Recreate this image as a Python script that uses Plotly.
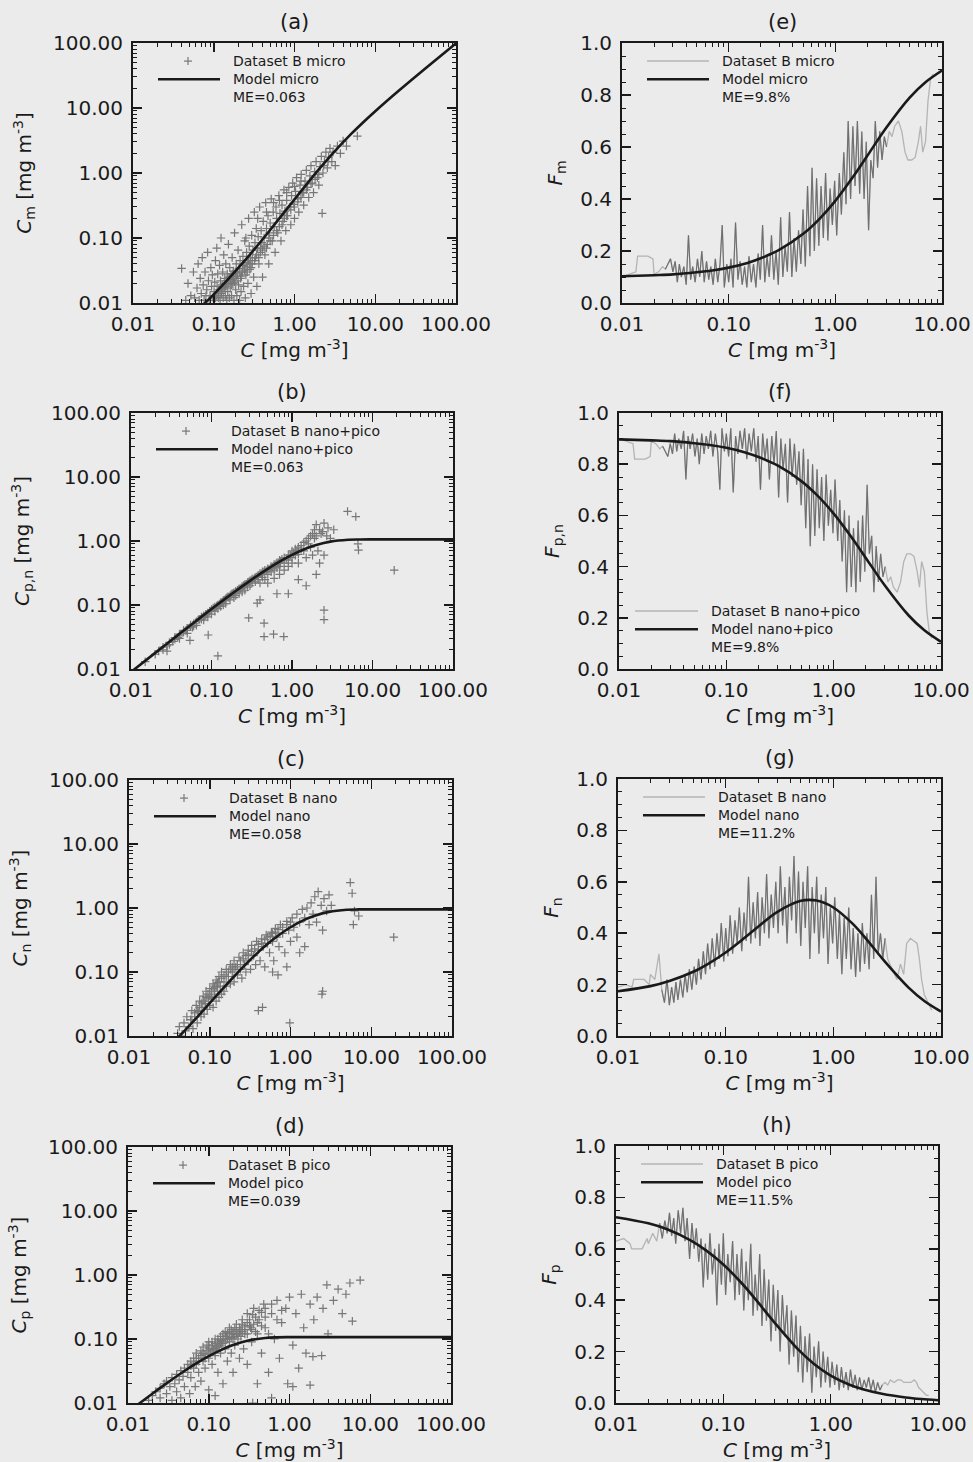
import plotly.graph_objects as go

# ---------------- data ----------------
MODEL_C = [0.01, 0.02, 0.03, 0.05, 0.07, 0.1, 0.15, 0.2, 0.3, 0.5, 0.7, 1, 1.5, 2, 3, 5, 7, 10, 20, 50, 100]
MODEL_CM = [0.00103, 0.00213, 0.00331, 0.00589, 0.00877, 0.0136, 0.0231, 0.0343, 0.0614, 0.133, 0.225, 0.393,
            0.736, 1.134, 2.023, 3.955, 5.943, 8.94, 18.94, 48.94, 98.94]
MODEL_CPN = [0.00897, 0.01787, 0.02669, 0.04411, 0.06123, 0.08638, 0.1269, 0.1657, 0.2386, 0.3670, 0.4754, 0.6070,
             0.7638, 0.8663, 0.9772, 1.0449, 1.0572, 1.0598, 1.06, 1.06, 1.06]
MODEL_CN = [0.00174, 0.00389, 0.00642, 0.01251, 0.01978, 0.03252, 0.05734, 0.08509, 0.1447, 0.2632, 0.3692, 0.5001,
            0.6568, 0.7593, 0.8702, 0.9379, 0.9502, 0.9528, 0.953, 0.953, 0.953]
MODEL_CP = [0.00723, 0.01398, 0.02027, 0.0316, 0.04145, 0.05386, 0.06956, 0.08061, 0.09389, 0.10377, 0.1062, 0.1069,
            0.107, 0.107, 0.107, 0.107, 0.107, 0.107, 0.107, 0.107, 0.107]

MODEL_FC = [0.01, 0.02, 0.03, 0.05, 0.07, 0.1, 0.15, 0.2, 0.3, 0.5, 0.7, 1, 1.5, 2, 3, 5, 7, 10]
MODEL_FM = [0.103, 0.107, 0.110, 0.118, 0.125, 0.136, 0.154, 0.172, 0.205, 0.266, 0.321, 0.393, 0.491, 0.567,
            0.674, 0.791, 0.849, 0.894]
MODEL_FPN = [0.897, 0.893, 0.890, 0.882, 0.875, 0.864, 0.846, 0.828, 0.795, 0.734, 0.679, 0.607, 0.509, 0.433,
             0.326, 0.209, 0.151, 0.106]
MODEL_FN = [0.174, 0.194, 0.214, 0.250, 0.283, 0.325, 0.382, 0.425, 0.482, 0.526, 0.527, 0.500, 0.438, 0.380,
            0.290, 0.188, 0.136, 0.095]
MODEL_FP = [0.723, 0.699, 0.676, 0.632, 0.592, 0.539, 0.464, 0.403, 0.313, 0.2075, 0.1517, 0.1069, 0.0713, 0.0535,
            0.0357, 0.0214, 0.0153, 0.0107]

LINE_C = [0.0100, 0.0118, 0.0135, 0.0140, 0.0175, 0.0195, 0.0200, 0.0220, 0.0240, 0.0255,
          0.0270, 0.0285, 0.0300, 0.0315, 0.0330, 0.0345, 0.0360, 0.0380, 0.0400, 0.0420,
          0.0440, 0.0460, 0.0485, 0.0510, 0.0535, 0.0560, 0.0590, 0.0620, 0.0650, 0.0680,
          0.0715, 0.0750, 0.0790, 0.0830, 0.0870, 0.0910, 0.0960, 0.1000, 0.1050, 0.1100,
          0.1160, 0.1220, 0.1280, 0.1340, 0.1410, 0.1480, 0.1550, 0.1630, 0.1710, 0.1800,
          0.1890, 0.1980, 0.2080, 0.2180, 0.2290, 0.2400, 0.2520, 0.2650, 0.2780, 0.2920,
          0.3070, 0.3220, 0.3380, 0.3550, 0.3720, 0.3910, 0.4100, 0.4310, 0.4520, 0.4750,
          0.4980, 0.5230, 0.5490, 0.5770, 0.6050, 0.6360, 0.6670, 0.7000, 0.7350, 0.7720,
          0.8100, 0.8510, 0.8930, 0.9380, 0.9850, 1.0300, 1.0900, 1.1400, 1.2000, 1.2600,
          1.3200, 1.3900, 1.4600, 1.5300, 1.6100, 1.6900, 1.7700, 1.8600, 1.9500, 2.0500,
          2.1500, 2.2600, 2.3700, 2.4900, 2.6100, 2.7400, 2.8800, 3.0200, 3.2000, 3.4000,
          3.6000, 3.9000, 4.2000, 4.5000, 4.8000, 5.2000, 5.6000, 6.0000, 6.3000, 6.6000,
          7.0000, 7.4000, 7.8000, 8.2000]

FM_DATA = [0.10, 0.11, 0.12, 0.18, 0.18, 0.17, 0.11, 0.12, 0.14, 0.13,
           0.15, 0.17, 0.12, 0.16, 0.08, 0.15, 0.10, 0.14, 0.07, 0.26,
           0.09, 0.14, 0.08, 0.17, 0.10, 0.20, 0.08, 0.16, 0.09, 0.14,
           0.07, 0.17, 0.08, 0.15, 0.30, 0.06, 0.15, 0.08, 0.17, 0.06,
           0.31, 0.09, 0.16, 0.07, 0.14, 0.06, 0.18, 0.08, 0.15, 0.06,
           0.19, 0.09, 0.30, 0.08, 0.18, 0.10, 0.26, 0.09, 0.20, 0.07,
           0.33, 0.10, 0.22, 0.12, 0.35, 0.10, 0.25, 0.12, 0.28, 0.15,
           0.36, 0.14, 0.45, 0.18, 0.52, 0.20, 0.48, 0.22, 0.45, 0.25,
           0.50, 0.24, 0.44, 0.30, 0.47, 0.26, 0.50, 0.34, 0.58, 0.38,
           0.70, 0.40, 0.68, 0.45, 0.70, 0.42, 0.66, 0.40, 0.62, 0.28,
           0.55, 0.48, 0.70, 0.52, 0.66, 0.55, 0.64, 0.60, 0.66, 0.64,
           0.68, 0.70, 0.66, 0.58, 0.55, 0.55, 0.56, 0.62, 0.68, 0.58,
           0.62, 0.78, 0.86, 0.88]

FPN_DATA = [0.90, 0.89, 0.88, 0.82, 0.82, 0.83, 0.89, 0.88, 0.86, 0.87,
            0.85, 0.83, 0.88, 0.84, 0.92, 0.85, 0.90, 0.86, 0.93, 0.74,
            0.91, 0.86, 0.92, 0.83, 0.90, 0.80, 0.92, 0.84, 0.91, 0.86,
            0.93, 0.83, 0.92, 0.85, 0.70, 0.94, 0.85, 0.92, 0.83, 0.94,
            0.69, 0.91, 0.84, 0.93, 0.86, 0.94, 0.82, 0.92, 0.85, 0.94,
            0.81, 0.91, 0.70, 0.92, 0.82, 0.90, 0.74, 0.91, 0.80, 0.93,
            0.67, 0.90, 0.78, 0.88, 0.65, 0.90, 0.75, 0.88, 0.72, 0.85,
            0.64, 0.86, 0.55, 0.82, 0.48, 0.80, 0.52, 0.78, 0.55, 0.75,
            0.50, 0.76, 0.56, 0.70, 0.53, 0.74, 0.50, 0.66, 0.42, 0.62,
            0.30, 0.60, 0.32, 0.55, 0.30, 0.58, 0.34, 0.60, 0.38, 0.72,
            0.45, 0.52, 0.30, 0.48, 0.34, 0.45, 0.36, 0.40, 0.34, 0.36,
            0.32, 0.30, 0.34, 0.42, 0.45, 0.45, 0.44, 0.38, 0.32, 0.42,
            0.38, 0.22, 0.14, 0.12]

FN_DATA = [0.19, 0.20, 0.19, 0.22, 0.22, 0.20, 0.24, 0.22, 0.32, 0.18,
           0.13, 0.22, 0.12, 0.19, 0.13, 0.21, 0.14, 0.22, 0.15, 0.24,
           0.17, 0.26, 0.18, 0.27, 0.20, 0.30, 0.22, 0.33, 0.24, 0.36,
           0.26, 0.38, 0.27, 0.40, 0.30, 0.44, 0.29, 0.42, 0.31, 0.47,
           0.32, 0.45, 0.36, 0.50, 0.33, 0.48, 0.37, 0.62, 0.36, 0.52,
           0.38, 0.56, 0.35, 0.54, 0.40, 0.63, 0.38, 0.55, 0.42, 0.60,
           0.40, 0.66, 0.43, 0.58, 0.36, 0.62, 0.45, 0.70, 0.40, 0.64,
           0.35, 0.60, 0.42, 0.66, 0.30, 0.58, 0.40, 0.62, 0.32, 0.55,
           0.38, 0.58, 0.28, 0.50, 0.36, 0.54, 0.30, 0.48, 0.24, 0.46,
           0.30, 0.50, 0.26, 0.42, 0.23, 0.40, 0.25, 0.44, 0.28, 0.40,
           0.26, 0.55, 0.30, 0.62, 0.32, 0.40, 0.30, 0.38, 0.30, 0.27,
           0.25, 0.22, 0.28, 0.24, 0.36, 0.38, 0.37, 0.36, 0.30, 0.22,
           0.16, 0.14, 0.12, 0.10]

FP_DATA = [0.63, 0.64, 0.62, 0.60, 0.60, 0.64, 0.62, 0.66, 0.63, 0.70,
           0.64, 0.71, 0.66, 0.74, 0.65, 0.72, 0.62, 0.75, 0.66, 0.76,
           0.63, 0.72, 0.56, 0.70, 0.60, 0.68, 0.55, 0.64, 0.45, 0.62,
           0.48, 0.66, 0.50, 0.60, 0.38, 0.62, 0.46, 0.66, 0.42, 0.58,
           0.47, 0.63, 0.40, 0.58, 0.42, 0.60, 0.36, 0.55, 0.40, 0.62,
           0.34, 0.50, 0.36, 0.58, 0.30, 0.52, 0.32, 0.48, 0.24, 0.46,
           0.28, 0.44, 0.20, 0.42, 0.26, 0.38, 0.15, 0.36, 0.18, 0.34,
           0.12, 0.30, 0.08, 0.26, 0.12, 0.27, 0.04, 0.22, 0.10, 0.24,
           0.06, 0.20, 0.08, 0.18, 0.06, 0.16, 0.07, 0.15, 0.05, 0.14,
           0.06, 0.12, 0.05, 0.13, 0.06, 0.11, 0.05, 0.10, 0.05, 0.09,
           0.06, 0.10, 0.05, 0.09, 0.04, 0.08, 0.05, 0.07, 0.08, 0.07,
           0.09, 0.08, 0.09, 0.09, 0.08, 0.08, 0.08, 0.09, 0.08, 0.06,
           0.05, 0.04, 0.03, 0.03]

A_PTS = [(0.040, 0.034), (0.045, 0.011), (0.048, 0.020), (0.052, 0.013), (0.056, 0.030), (0.058, 0.012),
         (0.062, 0.017), (0.064, 0.040), (0.066, 0.011), (0.068, 0.024), (0.070, 0.014), (0.072, 0.050),
         (0.074, 0.019), (0.076, 0.011), (0.078, 0.030), (0.080, 0.013), (0.082, 0.016), (0.084, 0.060),
         (0.086, 0.022), (0.088, 0.011), (0.090, 0.013), (0.092, 0.035), (0.094, 0.018), (0.096, 0.027),
         (0.098, 0.012), (0.100, 0.011), (0.101, 0.015), (0.103, 0.021), (0.105, 0.045), (0.107, 0.013),
         (0.109, 0.070), (0.110, 0.018), (0.112, 0.028), (0.114, 0.012), (0.116, 0.016), (0.118, 0.038),
         (0.120, 0.011), (0.121, 0.022), (0.123, 0.100), (0.125, 0.014), (0.127, 0.019), (0.129, 0.030),
         (0.131, 0.012), (0.133, 0.055), (0.135, 0.017), (0.137, 0.024), (0.139, 0.013), (0.141, 0.040),
         (0.143, 0.020), (0.145, 0.011), (0.147, 0.028), (0.149, 0.015), (0.152, 0.080), (0.154, 0.022),
         (0.156, 0.012), (0.158, 0.035), (0.160, 0.017), (0.163, 0.026), (0.166, 0.013), (0.169, 0.050),
         (0.172, 0.020), (0.175, 0.031), (0.178, 0.011), (0.181, 0.120), (0.184, 0.024), (0.187, 0.016),
         (0.190, 0.040), (0.193, 0.013), (0.196, 0.028), (0.200, 0.065), (0.203, 0.019), (0.206, 0.034),
         (0.209, 0.011), (0.212, 0.045), (0.215, 0.024), (0.218, 0.015), (0.222, 0.160), (0.226, 0.030),
         (0.230, 0.052), (0.234, 0.018), (0.238, 0.038), (0.242, 0.090), (0.246, 0.012), (0.250, 0.027),
         (0.255, 0.060), (0.260, 0.042), (0.265, 0.020), (0.270, 0.200), (0.275, 0.075), (0.280, 0.033),
         (0.285, 0.050), (0.290, 0.014), (0.295, 0.110), (0.300, 0.040), (0.306, 0.065), (0.312, 0.025),
         (0.318, 0.250), (0.324, 0.085), (0.330, 0.050), (0.336, 0.140), (0.342, 0.018), (0.348, 0.070),
         (0.355, 0.105), (0.362, 0.040), (0.370, 0.300), (0.378, 0.060), (0.386, 0.130), (0.394, 0.085),
         (0.402, 0.025), (0.410, 0.180), (0.420, 0.100), (0.430, 0.055), (0.440, 0.350), (0.450, 0.140),
         (0.460, 0.080), (0.470, 0.220), (0.480, 0.040), (0.490, 0.120), (0.500, 0.170), (0.515, 0.400),
         (0.530, 0.090), (0.545, 0.250), (0.560, 0.150), (0.575, 0.060), (0.590, 0.300), (0.600, 0.200),
         (0.62, 0.12), (0.64, 0.45), (0.66, 0.24), (0.68, 0.09), (0.70, 0.32), (0.72, 0.18), (0.74, 0.55),
         (0.76, 0.26), (0.78, 0.13), (0.80, 0.38), (0.82, 0.22), (0.85, 0.60), (0.88, 0.30), (0.90, 0.16),
         (0.92, 0.45), (0.95, 0.70), (0.98, 0.33), (1.00, 0.20), (1.03, 0.52), (1.06, 0.85), (1.10, 0.40),
         (1.13, 0.25), (1.17, 0.65), (1.21, 0.95), (1.25, 0.50), (1.30, 0.32), (1.35, 0.75), (1.40, 1.10),
         (1.45, 0.60), (1.50, 0.42), (1.55, 0.90), (1.60, 1.30), (1.66, 0.70), (1.72, 0.50), (1.78, 1.05),
         (1.85, 1.50), (1.92, 0.85), (2.00, 0.65), (2.08, 1.25), (2.15, 1.80), (2.20, 0.24), (2.25, 1.00),
         (2.35, 1.50), (2.45, 2.10), (2.55, 1.20), (2.65, 1.75), (2.75, 2.40), (2.90, 1.50), (3.00, 2.10),
         (3.20, 1.30), (3.40, 2.60), (3.70, 2.00), (4.00, 3.10), (4.40, 2.60), (6.00, 3.70),
         (0.105, 0.012), (0.110, 0.014), (0.115, 0.013), (0.120, 0.015), (0.125, 0.017), (0.130, 0.016),
         (0.135, 0.020), (0.140, 0.018), (0.145, 0.022), (0.150, 0.020), (0.155, 0.025), (0.160, 0.023),
         (0.165, 0.019), (0.170, 0.028), (0.175, 0.024), (0.180, 0.021), (0.185, 0.030), (0.190, 0.026),
         (0.200, 0.022), (0.210, 0.030), (0.220, 0.026), (0.230, 0.038), (0.240, 0.032), (0.250, 0.036),
         (0.260, 0.030), (0.270, 0.045), (0.280, 0.040), (0.290, 0.035), (0.300, 0.050), (0.320, 0.045),
         (0.340, 0.055), (0.360, 0.050), (0.380, 0.070), (0.400, 0.065), (0.420, 0.075), (0.450, 0.070),
         (0.480, 0.100), (0.500, 0.090), (0.550, 0.110), (0.600, 0.130), (0.650, 0.150), (0.700, 0.160),
         (0.750, 0.200), (0.800, 0.220), (0.900, 0.270), (1.000, 0.300), (1.100, 0.360), (1.200, 0.420),
         (1.300, 0.500), (1.400, 0.550), (1.600, 0.680), (1.800, 0.800), (2.000, 0.950), (2.300, 1.300),
         (2.600, 1.500), (0.250, 0.100), (0.350, 0.200), (0.450, 0.250), (0.550, 0.350), (0.650, 0.380),
         (0.800, 0.500), (1.000, 0.620), (1.200, 0.750)]

B_PTS = [(0.015, 0.013), (0.02, 0.017), (0.022, 0.019), (0.025, 0.02), (0.028, 0.023), (0.028, 0.019),
         (0.03, 0.026), (0.033, 0.027), (0.035, 0.029), (0.038, 0.031), (0.04, 0.035), (0.04, 0.03),
         (0.045, 0.038), (0.048, 0.04), (0.05, 0.043), (0.05, 0.036), (0.055, 0.046), (0.058, 0.045),
         (0.06, 0.051), (0.065, 0.055), (0.065, 0.048), (0.07, 0.059), (0.075, 0.06), (0.08, 0.068),
         (0.08, 0.058), (0.085, 0.072), (0.09, 0.075), (0.09, 0.065), (0.1, 0.085), (0.1, 0.072),
         (0.11, 0.093), (0.11, 0.08), (0.12, 0.1), (0.12, 0.088), (0.13, 0.11), (0.13, 0.095),
         (0.14, 0.118), (0.14, 0.1), (0.15, 0.125), (0.15, 0.105), (0.16, 0.135), (0.17, 0.14),
         (0.17, 0.12), (0.18, 0.15), (0.19, 0.155), (0.19, 0.13), (0.2, 0.165), (0.2, 0.14),
         (0.22, 0.18), (0.22, 0.15), (0.24, 0.195), (0.24, 0.16), (0.26, 0.21), (0.26, 0.17),
         (0.28, 0.225), (0.28, 0.19), (0.3, 0.24), (0.3, 0.2), (0.32, 0.255), (0.32, 0.22),
         (0.35, 0.27), (0.35, 0.23), (0.38, 0.29), (0.38, 0.25), (0.4, 0.31), (0.4, 0.22),
         (0.43, 0.33), (0.43, 0.27), (0.46, 0.35), (0.46, 0.25), (0.5, 0.37), (0.5, 0.3), (0.5, 0.22),
         (0.55, 0.4), (0.55, 0.33), (0.6, 0.43), (0.6, 0.35), (0.6, 0.26), (0.65, 0.46), (0.65, 0.38),
         (0.7, 0.5), (0.7, 0.4), (0.7, 0.3), (0.75, 0.52), (0.8, 0.55), (0.8, 0.45), (0.8, 0.35),
         (0.9, 0.6), (0.9, 0.5), (0.9, 0.4), (1.0, 0.7), (1.0, 0.55), (1.0, 0.45), (1.1, 0.75),
         (1.1, 0.6), (1.2, 0.8), (1.2, 0.62), (1.2, 0.45), (1.3, 0.85), (1.4, 0.95), (1.4, 0.7),
         (1.5, 1.0), (1.5, 0.55), (1.6, 1.1), (1.7, 1.2), (1.7, 0.8), (1.8, 1.3), (1.9, 1.5),
         (2.0, 1.8), (2.0, 1.2), (2.1, 0.7), (2.2, 1.5), (2.4, 1.4), (2.5, 1.9), (2.5, 0.6),
         (2.8, 1.6), (3.0, 1.1), (3.3, 1.5), (4.9, 2.9), (6.2, 2.4), (6.7, 0.72), (6.6, 0.9),
         (18.6, 0.35), (2.5, 0.083), (2.5, 0.059), (0.45, 0.052), (0.45, 0.032), (0.59, 0.035),
         (0.79, 0.032), (0.29, 0.063), (0.37, 0.107), (0.12, 0.016), (0.091, 0.034), (0.054, 0.028),
         (1.5, 0.2), (1.2, 0.25), (0.9, 0.15), (2.0, 0.3), (2.2, 0.45), (1.8, 0.6), (0.65, 0.15),
         (0.4, 0.12), (0.025, 0.022), (0.03, 0.024), (0.035, 0.031), (0.04, 0.033), (0.045, 0.04),
         (0.05, 0.04), (0.055, 0.049), (0.06, 0.047), (0.07, 0.06), (0.075, 0.065), (0.08, 0.064),
         (0.085, 0.07), (0.095, 0.08), (0.1, 0.08), (0.105, 0.09), (0.115, 0.095), (0.125, 0.1),
         (0.135, 0.11), (0.145, 0.12), (0.155, 0.13), (0.165, 0.13), (0.175, 0.145), (0.185, 0.15),
         (0.21, 0.17), (0.23, 0.18), (0.25, 0.2), (0.27, 0.21), (0.29, 0.23), (0.31, 0.24), (0.34, 0.26),
         (0.37, 0.28), (0.42, 0.3), (0.45, 0.33), (0.48, 0.34), (0.52, 0.36), (0.57, 0.39), (0.62, 0.42),
         (0.68, 0.45), (0.72, 0.47), (0.85, 0.52), (0.95, 0.6), (1.05, 0.65), (1.15, 0.7), (1.3, 0.75),
         (1.6, 0.9), (1.9, 1.1), (2.3, 1.3), (2.7, 1.2)]

C_PTS = [(0.04, 0.011), (0.042, 0.014), (0.045, 0.01), (0.048, 0.016), (0.05, 0.012), (0.052, 0.02),
         (0.055, 0.014), (0.058, 0.018), (0.06, 0.025), (0.062, 0.013), (0.065, 0.02), (0.068, 0.03),
         (0.07, 0.016), (0.072, 0.024), (0.075, 0.035), (0.078, 0.02), (0.08, 0.028), (0.083, 0.042),
         (0.085, 0.022), (0.088, 0.032), (0.09, 0.05), (0.093, 0.026), (0.096, 0.038), (0.1, 0.03),
         (0.1, 0.055), (0.105, 0.04), (0.11, 0.028), (0.11, 0.065), (0.115, 0.045), (0.12, 0.035),
         (0.12, 0.075), (0.125, 0.05), (0.13, 0.04), (0.13, 0.085), (0.135, 0.06), (0.14, 0.045),
         (0.14, 0.1), (0.15, 0.07), (0.15, 0.05), (0.16, 0.11), (0.16, 0.06), (0.17, 0.085),
         (0.18, 0.13), (0.18, 0.065), (0.19, 0.1), (0.2, 0.15), (0.2, 0.07), (0.21, 0.12),
         (0.22, 0.09), (0.23, 0.17), (0.24, 0.11), (0.25, 0.08), (0.26, 0.2), (0.27, 0.13),
         (0.28, 0.1), (0.3, 0.22), (0.3, 0.15), (0.32, 0.11), (0.33, 0.26), (0.35, 0.18),
         (0.37, 0.13), (0.38, 0.3), (0.4, 0.22), (0.42, 0.15), (0.44, 0.33), (0.46, 0.25),
         (0.48, 0.12), (0.5, 0.38), (0.52, 0.28), (0.55, 0.2), (0.58, 0.42), (0.6, 0.3),
         (0.62, 0.15), (0.65, 0.48), (0.68, 0.35), (0.7, 0.09), (0.72, 0.25), (0.75, 0.55),
         (0.8, 0.4), (0.85, 0.2), (0.9, 0.62), (0.95, 0.45), (1.0, 0.3), (1.05, 0.7), (1.1, 0.5),
         (1.2, 0.8), (1.2, 0.35), (1.3, 0.6), (1.4, 0.95), (1.5, 0.7), (1.5, 0.25), (1.6, 1.0),
         (1.7, 0.55), (1.8, 1.2), (1.9, 0.8), (2.0, 1.5), (2.1, 0.6), (2.2, 1.8), (2.4, 1.1),
         (2.5, 0.45), (2.6, 1.4), (2.8, 0.9), (3.0, 1.6), (3.2, 1.1), (0.4, 0.025), (0.45, 0.028),
         (0.98, 0.016), (2.5, 0.05), (2.45, 0.045), (5.5, 2.5), (5.8, 1.7), (6.2, 0.9), (7.0, 0.75),
         (6.0, 0.55), (19.0, 0.35), (0.6, 0.1), (0.9, 0.12), (1.3, 0.2),
         (0.06, 0.018), (0.065, 0.023), (0.07, 0.025), (0.075, 0.028), (0.08, 0.033), (0.085, 0.035),
         (0.09, 0.04), (0.095, 0.045), (0.1, 0.042), (0.105, 0.05), (0.11, 0.055), (0.115, 0.06),
         (0.12, 0.058), (0.125, 0.068), (0.13, 0.07), (0.14, 0.08), (0.15, 0.09), (0.16, 0.085),
         (0.17, 0.1), (0.18, 0.11), (0.19, 0.12), (0.2, 0.11), (0.22, 0.13), (0.24, 0.15), (0.26, 0.16),
         (0.28, 0.18), (0.3, 0.19), (0.33, 0.21), (0.36, 0.23), (0.4, 0.27), (0.44, 0.28), (0.48, 0.32),
         (0.52, 0.35), (0.56, 0.36), (0.6, 0.4), (0.65, 0.42), (0.7, 0.46), (0.8, 0.5), (0.9, 0.55),
         (1.0, 0.6)]

D_PTS = [(0.018, 0.011), (0.02, 0.013), (0.022, 0.015), (0.025, 0.012), (0.025, 0.017), (0.028, 0.02),
         (0.03, 0.014), (0.03, 0.022), (0.033, 0.018), (0.035, 0.025), (0.035, 0.011), (0.038, 0.02),
         (0.04, 0.028), (0.04, 0.015), (0.043, 0.023), (0.045, 0.032), (0.045, 0.012), (0.048, 0.026),
         (0.05, 0.035), (0.05, 0.018), (0.055, 0.03), (0.055, 0.04), (0.058, 0.014), (0.06, 0.045),
         (0.06, 0.025), (0.065, 0.035), (0.065, 0.05), (0.068, 0.018), (0.07, 0.04), (0.07, 0.06),
         (0.075, 0.03), (0.075, 0.05), (0.08, 0.065), (0.08, 0.022), (0.085, 0.045), (0.085, 0.075),
         (0.09, 0.035), (0.09, 0.058), (0.095, 0.08), (0.1, 0.05), (0.1, 0.016), (0.1, 0.09),
         (0.11, 0.065), (0.11, 0.04), (0.12, 0.1), (0.12, 0.055), (0.12, 0.013), (0.13, 0.075),
         (0.13, 0.03), (0.14, 0.11), (0.14, 0.06), (0.15, 0.085), (0.15, 0.02), (0.16, 0.13),
         (0.16, 0.07), (0.17, 0.045), (0.18, 0.1), (0.18, 0.15), (0.19, 0.06), (0.2, 0.12),
         (0.2, 0.03), (0.21, 0.08), (0.22, 0.17), (0.23, 0.1), (0.24, 0.05), (0.25, 0.14),
         (0.26, 0.2), (0.27, 0.07), (0.28, 0.12), (0.3, 0.25), (0.3, 0.04), (0.32, 0.16),
         (0.34, 0.09), (0.36, 0.3), (0.38, 0.13), (0.4, 0.02), (0.42, 0.2), (0.45, 0.06),
         (0.48, 0.35), (0.5, 0.15), (0.55, 0.03), (0.6, 0.25), (0.65, 0.1), (0.7, 0.4),
         (0.75, 0.05), (0.8, 0.18), (0.9, 0.3), (0.95, 0.02), (1.0, 0.45), (1.1, 0.08),
         (1.1, 0.018), (1.2, 0.25), (1.3, 0.035), (1.4, 0.5), (1.5, 0.15), (1.6, 0.06),
         (1.8, 0.35), (1.8, 0.019), (1.95, 0.053), (2.0, 0.2), (2.2, 0.45), (2.5, 0.055),
         (2.6, 0.3), (2.9, 0.7), (3.0, 0.12), (3.5, 0.4), (4.0, 0.6), (4.5, 0.25), (5.0, 0.5),
         (5.6, 0.75), (6.0, 0.19), (7.5, 0.83), (0.35, 0.01), (0.6, 0.012),
         (0.06, 0.038), (0.065, 0.042), (0.07, 0.05), (0.075, 0.045), (0.08, 0.055), (0.085, 0.06),
         (0.09, 0.05), (0.095, 0.065), (0.1, 0.07), (0.105, 0.06), (0.11, 0.08), (0.115, 0.07),
         (0.12, 0.085), (0.125, 0.075), (0.13, 0.09), (0.135, 0.08), (0.14, 0.095), (0.145, 0.085),
         (0.15, 0.1), (0.16, 0.09), (0.165, 0.11), (0.17, 0.1), (0.18, 0.12), (0.19, 0.105),
         (0.2, 0.13), (0.21, 0.11), (0.22, 0.14), (0.23, 0.12), (0.24, 0.15), (0.25, 0.11),
         (0.26, 0.13), (0.28, 0.16), (0.3, 0.12), (0.32, 0.2), (0.34, 0.14), (0.36, 0.17),
         (0.38, 0.22), (0.4, 0.12), (0.42, 0.28), (0.45, 0.16), (0.5, 0.22), (0.55, 0.12),
         (0.1, 0.075), (0.11, 0.09), (0.12, 0.07), (0.13, 0.1), (0.14, 0.085), (0.15, 0.12),
         (0.16, 0.1), (0.17, 0.125), (0.18, 0.09), (0.19, 0.14), (0.2, 0.1), (0.21, 0.15),
         (0.22, 0.12), (0.24, 0.13), (0.26, 0.17), (0.28, 0.14), (0.3, 0.18), (0.33, 0.15),
         (0.35, 0.24), (0.4, 0.18), (0.45, 0.26), (0.5, 0.3), (0.6, 0.35), (0.7, 0.2), (0.8, 0.28)]

LOG_TICKS = [0.01, 0.1, 1, 10, 100]
LOG_TICKTEXT = ["0.01", "0.10", "1.00", "10.00", "100.00"]

# ---------------- styling / layout ----------------
W, H = 973, 1462
BG = "#ebebeb"
INK = "#1a1a1a"
FONT = "DejaVu Sans"
PT_COLOR = "#777777"
LIGHT = "#b4b4b4"
DARK = "#6f6f6f"

# plot boxes in pixels: left, right, top, bottom
BOX = {
    "a": (133, 456, 43, 303), "b": (131, 453, 413, 669),
    "c": (129, 452, 780, 1036), "d": (128, 451, 1147, 1403),
    "e": (622, 942, 43, 303), "f": (619, 941, 413, 669),
    "g": (618, 941, 779, 1036), "h": (616, 938, 1146, 1403),
}

XT = "<i>C</i> [mg m<sup>-3</sup>]"
PANELS = [
    dict(k="a", kind="sc", pts=A_PTS, model=MODEL_CM, ytitle="<i>C</i><sub>m</sub> [mg m<sup>-3</sup>]",
         leg=["Dataset B micro", "Model micro", "ME=0.063"], legpos="top"),
    dict(k="b", kind="sc", pts=B_PTS, model=MODEL_CPN, ytitle="<i>C</i><sub>p,n</sub> [mg m<sup>-3</sup>]",
         leg=["Dataset B nano+pico", "Model nano+pico", "ME=0.063"], legpos="top"),
    dict(k="c", kind="sc", pts=C_PTS, model=MODEL_CN, ytitle="<i>C</i><sub>n</sub> [mg m<sup>-3</sup>]",
         leg=["Dataset B nano", "Model nano", "ME=0.058"], legpos="top"),
    dict(k="d", kind="sc", pts=D_PTS, model=MODEL_CP, ytitle="<i>C</i><sub>p</sub> [mg m<sup>-3</sup>]",
         leg=["Dataset B pico", "Model pico", "ME=0.039"], legpos="top"),
    dict(k="e", kind="fr", data=FM_DATA, model=MODEL_FM, ytitle="<i>F</i><sub>m</sub>",
         leg=["Dataset B micro", "Model micro", "ME=9.8%"], legpos="top"),
    dict(k="f", kind="fr", data=FPN_DATA, model=MODEL_FPN, ytitle="<i>F</i><sub>p,n</sub>",
         leg=["Dataset B nano+pico", "Model nano+pico", "ME=9.8%"], legpos="bottom"),
    dict(k="g", kind="fr", data=FN_DATA, model=MODEL_FN, ytitle="<i>F</i><sub>n</sub>",
         leg=["Dataset B nano", "Model nano", "ME=11.2%"], legpos="top"),
    dict(k="h", kind="fr", data=FP_DATA, model=MODEL_FP, ytitle="<i>F</i><sub>p</sub>",
         leg=["Dataset B pico", "Model pico", "ME=11.5%"], legpos="top"),
]

fig = go.Figure()
layout = dict(width=W, height=H, autosize=False, margin=dict(l=0, r=0, t=0, b=0, pad=0),
              paper_bgcolor=BG, plot_bgcolor=BG, showlegend=False,
              font=dict(family=FONT, color=INK), annotations=[], shapes=[])

axis_common = dict(showline=True, linewidth=2, linecolor=INK, mirror="allticks", ticks="inside",
                   ticklen=9, tickwidth=1.5, tickcolor=INK, showgrid=False, zeroline=False,
                   automargin=False, tickfont=dict(family=FONT, size=20, color=INK))
minor_common = dict(ticks="inside", ticklen=4, tickwidth=1, tickcolor=INK, showgrid=False)

LIGHT_SPLIT = (9, 108)  # indices where the dense middle part of the data line starts / ends
LEG_FONT = 14
LEG_STEP = LEG_FONT * 1.3

for n, p in enumerate(PANELS, start=1):
    l, r, t, b = BOX[p["k"]]
    wpx, hpx = r - l, b - t
    sfx = "" if n == 1 else str(n)
    xa, ya = f"x{sfx}", f"y{sfx}"
    xkey, ykey = f"xaxis{sfx}", f"yaxis{sfx}"
    xdom = [l / W, r / W]
    ydom = [1 - b / H, 1 - t / H]

    if p["kind"] == "sc":
        xs = [c for c, _ in p["pts"]]
        ys = [v for _, v in p["pts"]]
        fig.add_trace(go.Scatter(x=xs, y=ys, mode="markers", xaxis=xa, yaxis=ya,
                                 marker=dict(symbol="cross-thin", size=6,
                                             line=dict(width=1.2, color=PT_COLOR))))
        fig.add_trace(go.Scatter(x=MODEL_C, y=p["model"], mode="lines", xaxis=xa, yaxis=ya,
                                 line=dict(color=INK, width=2.6, shape="spline")))
        xr = [-2, 2]
        layout[ykey] = dict(axis_common, domain=ydom, anchor=xa, type="log", range=[-2, 2],
                            tickvals=LOG_TICKS, ticktext=LOG_TICKTEXT, ticklabelstandoff=4,
                            minor=dict(minor_common, dtick="D1"),
                            title=dict(text=p["ytitle"], font=dict(size=20, family=FONT), standoff=16))
    else:
        i0, i1 = LIGHT_SPLIT
        fig.add_trace(go.Scatter(x=LINE_C, y=p["data"], mode="lines", xaxis=xa, yaxis=ya,
                                 line=dict(color=LIGHT, width=1.3)))
        fig.add_trace(go.Scatter(x=LINE_C[i0:i1], y=p["data"][i0:i1], mode="lines", xaxis=xa, yaxis=ya,
                                 line=dict(color=DARK, width=1.1)))
        fig.add_trace(go.Scatter(x=MODEL_FC, y=p["model"], mode="lines", xaxis=xa, yaxis=ya,
                                 line=dict(color=INK, width=2.6, shape="spline")))
        xr = [-2, 1]
        layout[ykey] = dict(axis_common, domain=ydom, anchor=xa, range=[0, 1], dtick=0.2, tick0=0,
                            tickformat=".1f", ticklabelstandoff=4,
                            minor=dict(minor_common, dtick=0.05),
                            title=dict(text=p["ytitle"], font=dict(size=20, family=FONT), standoff=12))

    layout[xkey] = dict(axis_common, domain=xdom, anchor=ya, type="log", range=xr,
                        tickvals=LOG_TICKS, ticktext=LOG_TICKTEXT, ticklabelstandoff=2,
                        minor=dict(minor_common, dtick="D1"),
                        title=dict(text=XT, font=dict(size=20, family=FONT), standoff=0))

    # panel label
    layout["annotations"].append(dict(text=f"({p['k']})", xref=f"{xa} domain", yref=f"{ya} domain",
                                      x=0.5, y=1 + 21 / hpx, xanchor="center", yanchor="middle",
                                      showarrow=False, font=dict(size=21, family=FONT, color=INK)))

    # custom legend: one three-line text block plus sample marks
    if p["legpos"] == "top":
        lx0, lx1, tx, top = 25, 87, 99, 9
    else:
        lx0, lx1, tx, top = 16, 79, 91, 189
    rows = [top + LEG_STEP * (i + 0.5) for i in range(3)]
    layout["annotations"].append(dict(text="<br>".join(p["leg"]), xref=f"{xa} domain", yref=f"{ya} domain",
                                      x=tx / wpx, y=1 - top / hpx, xanchor="left", yanchor="top",
                                      align="left", showarrow=False, borderpad=0,
                                      font=dict(size=LEG_FONT, family=FONT, color=INK)))
    if p["kind"] == "sc":
        layout["shapes"].append(dict(type="line", xref=f"{xa} domain", yref=f"{ya} domain",
                                     x0=51 / wpx, x1=59 / wpx, y0=1 - rows[0] / hpx, y1=1 - rows[0] / hpx,
                                     line=dict(color=PT_COLOR, width=1.2)))
        layout["shapes"].append(dict(type="line", xref=f"{xa} domain", yref=f"{ya} domain",
                                     x0=55 / wpx, x1=55 / wpx, y0=1 - (rows[0] - 4) / hpx,
                                     y1=1 - (rows[0] + 4) / hpx, line=dict(color=PT_COLOR, width=1.2)))
    else:
        layout["shapes"].append(dict(type="line", xref=f"{xa} domain", yref=f"{ya} domain",
                                     x0=lx0 / wpx, x1=lx1 / wpx, y0=1 - rows[0] / hpx, y1=1 - rows[0] / hpx,
                                     line=dict(color=LIGHT, width=1.5)))
    layout["shapes"].append(dict(type="line", xref=f"{xa} domain", yref=f"{ya} domain",
                                 x0=lx0 / wpx, x1=lx1 / wpx, y0=1 - rows[1] / hpx, y1=1 - rows[1] / hpx,
                                 line=dict(color=INK, width=2.6)))

fig.update_layout(**layout)
fig.write_html("out.html", config={"displayModeBar": False, "staticPlot": True},
               post_script="document.body.style.margin='0';document.body.style.overflow='hidden';")
